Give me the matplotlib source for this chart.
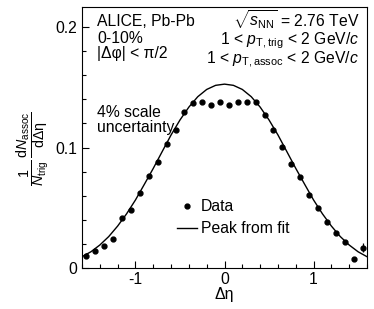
import numpy as np
import matplotlib
matplotlib.use("Agg")
import matplotlib.pyplot as plt
from matplotlib.lines import Line2D
from matplotlib.ticker import MultipleLocator, FixedLocator, FixedFormatter

plt.rcParams["font.family"] = ["Liberation Sans", "DejaVu Sans"]
plt.rcParams["mathtext.fontset"] = "custom"
plt.rcParams["mathtext.rm"] = "Liberation Sans"
plt.rcParams["mathtext.it"] = "Liberation Sans:italic"
plt.rcParams["mathtext.bf"] = "Liberation Sans:bold"

# ── Data ─────────────────────────────────────────────────────────────────
deta = [-1.55, -1.45, -1.35, -1.25, -1.15, -1.05, -0.95, -0.85,
        -0.75, -0.65, -0.55, -0.45, -0.35, -0.25, -0.15, -0.05,
         0.05,  0.15,  0.25,  0.35,  0.45,  0.55,  0.65,  0.75,
         0.85,  0.95,  1.05,  1.15,  1.25,  1.35,  1.45,  1.55]
yield_data = [0.0104, 0.0144, 0.0186, 0.0244, 0.0417, 0.0481, 0.0627, 0.0762,
              0.0884, 0.1028, 0.1149, 0.1294, 0.1371, 0.1376, 0.1357, 0.1376,
              0.1357, 0.1376, 0.1376, 0.1376, 0.1271, 0.1150, 0.1008, 0.0868,
              0.0754, 0.0608, 0.0502, 0.0386, 0.0296, 0.0215, 0.0080, 0.0171]
yield_err = [0.0020, 0.0010, 0.0010, 0.0010, 0.0010, 0.0010, 0.0010, 0.0010,
             0.0010, 0.0010, 0.0010, 0.0010, 0.0010, 0.0010, 0.0010, 0.0010,
             0.0010, 0.0010, 0.0010, 0.0010, 0.0010, 0.0010, 0.0010, 0.0010,
             0.0010, 0.0010, 0.0010, 0.0010, 0.0010, 0.0012, 0.0012, 0.0035]

# "Peak from fit" curve, sampled every 0.1 in Δη
fit_x = [-1.6, -1.5, -1.4, -1.3, -1.2, -1.1, -1.0, -0.9, -0.8, -0.7, -0.6,
         -0.5, -0.4, -0.3, -0.2, -0.1, 0.0, 0.1, 0.2, 0.3, 0.4, 0.5,
         0.6, 0.7, 0.8, 0.9, 1.0, 1.1, 1.2, 1.3, 1.4, 1.5, 1.6]
fit_y = [0.0096, 0.0137, 0.0193, 0.0263, 0.0350, 0.0451, 0.0566, 0.0696,
         0.0828, 0.0967, 0.1105, 0.1229, 0.1336, 0.1422, 0.1482, 0.1516,
         0.1526, 0.1516, 0.1482, 0.1422, 0.1336, 0.1229, 0.1105, 0.0967,
         0.0828, 0.0696, 0.0566, 0.0451, 0.0350, 0.0263, 0.0193, 0.0137,
         0.0096]

y_ticks = [0.0, 0.1, 0.2]
y_ticklabels = ["0", "0.1", "0.2"]
x_ticks = [-1, 0, 1]
x_ticklabels = ["-1", "0", "1"]

FS = 11.3

# ── Plot ───────────────────────────────────────────────────────────────────
fig = plt.figure(figsize=(3.74, 3.09), dpi=100)
ax = fig.add_axes([0.2193, 0.1317, 0.762, 0.8456])

ax.plot(fit_x, fit_y, color="black", linewidth=1.0, zorder=2)
ax.errorbar(deta, yield_data, yerr=yield_err, fmt="o", color="black",
            markersize=3.5, elinewidth=0.9, capsize=0, zorder=3)

ax.set_xlim(-1.6, 1.6)
ax.set_ylim(0, 0.2165)

ax.xaxis.set_major_locator(FixedLocator(x_ticks))
ax.xaxis.set_major_formatter(FixedFormatter(x_ticklabels))
ax.xaxis.set_minor_locator(MultipleLocator(0.2))
ax.yaxis.set_major_locator(FixedLocator(y_ticks))
ax.yaxis.set_major_formatter(FixedFormatter(y_ticklabels))
ax.yaxis.set_minor_locator(MultipleLocator(0.02))

ax.tick_params(which="both", direction="in", top=False, right=False,
               labelsize=FS, width=0.8)
ax.tick_params(which="major", length=5, pad=3.5)
ax.tick_params(which="minor", length=2.7)
ax.tick_params(axis="x", which="major", pad=3)
for spine in ax.spines.values():
    spine.set_linewidth(0.8)

ax.set_xlabel("Δη", fontsize=FS, va="center")
ax.xaxis.set_label_coords(0.5, -0.1)
ax.set_ylabel(r"$\dfrac{1}{N_{\mathrm{trig}}}\,\dfrac{\mathrm{d}N_{\mathrm{assoc}}}{\mathrm{d}\Delta\mathrm{\eta}}$",
              fontsize=10.3, ha="center", va="center")
ax.yaxis.set_label_coords(-0.172, 0.46)

# left text block
ax.text(0.053, 0.927, "ALICE, Pb-Pb", transform=ax.transAxes, fontsize=FS, va="baseline")
ax.text(0.053, 0.861, "0-10%", transform=ax.transAxes, fontsize=FS, va="baseline")
ax.text(0.053, 0.805, "|Δφ| < π/2", transform=ax.transAxes, fontsize=FS, va="baseline")
ax.text(0.053, 0.580, "4% scale", transform=ax.transAxes, fontsize=FS, va="baseline")
ax.text(0.053, 0.523, "uncertainty", transform=ax.transAxes, fontsize=FS, va="baseline")

# right text block
ax.text(0.973, 0.927, r"$\sqrt{s_{\mathrm{NN}}}$ = 2.76 TeV", transform=ax.transAxes,
        fontsize=FS, va="baseline", ha="right")
ax.text(0.973, 0.858, r"1 < $p_{\mathrm{T,trig}}$ < 2 GeV/$c$", transform=ax.transAxes,
        fontsize=FS, va="baseline", ha="right")
ax.text(0.973, 0.781, r"1 < $p_{\mathrm{T,assoc}}$ < 2 GeV/$c$", transform=ax.transAxes,
        fontsize=FS, va="baseline", ha="right")

legend_handles = [
    Line2D([], [], linestyle="none", marker="o", markersize=3.5, color="black"),
    Line2D([], [], color="black", linewidth=1.0),
]
ax.legend(legend_handles, ["Data", "Peak from fit"], loc="upper left",
          bbox_to_anchor=(0.333, 0.265), frameon=False, fontsize=FS,
          handlelength=1.3, handletextpad=0.25, labelspacing=0.45,
          borderpad=0, borderaxespad=0)

fig.savefig("out.png", dpi=100)
